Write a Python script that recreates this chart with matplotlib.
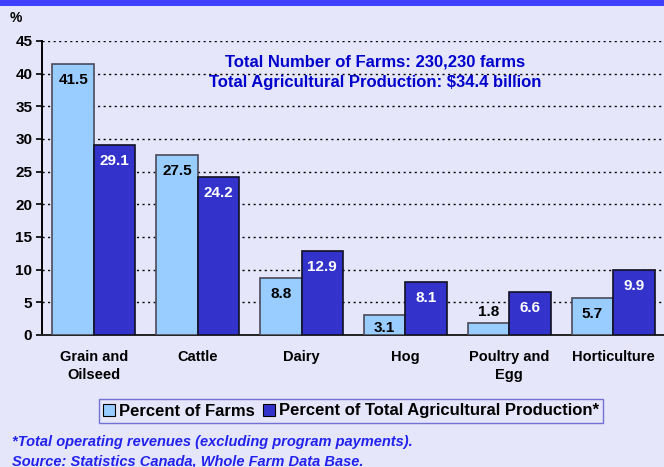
import matplotlib
matplotlib.use("Agg")
import matplotlib.pyplot as plt
from matplotlib.patches import Rectangle, Patch
import numpy as np

plt.rcParams['font.family'] = ['Liberation Sans', 'DejaVu Sans']

categories = ["Grain and\nOilseed", "Cattle", "Dairy", "Hog", "Poultry and\nEgg", "Horticulture"]
pct_farms = [41.5, 27.5, 8.8, 3.1, 1.8, 5.7]
pct_production = [29.1, 24.2, 12.9, 8.1, 6.6, 9.9]
series_names = ["Percent of Farms", "Percent of Total Agricultural Production*"]
y_ticks = [0, 5, 10, 15, 20, 25, 30, 35, 40, 45]

BG = "#E6E6FA"
LIGHT = "#99CCFF"
DARK = "#3333CC"

fig = plt.figure(figsize=(6.64, 4.67), dpi=100, facecolor=BG)

# header band across the top
fig.patches.append(Rectangle((0, 1 - 6 / 467), 1, 6 / 467, transform=fig.transFigure,
                             facecolor="#4040FF", edgecolor="none", zorder=0))

ax = fig.add_axes([42 / 664, 1 - 335 / 467, 623 / 664, 294 / 467])
ax.set_facecolor(BG)

x = np.arange(len(categories))
w = 0.4
b1 = ax.bar(x - w / 2, pct_farms, w, color=LIGHT, edgecolor="#4A4A5A", linewidth=1.2, zorder=3)
b2 = ax.bar(x + w / 2, pct_production, w, color=DARK, edgecolor="#111122", linewidth=1.2, zorder=3)

ax.set_xlim(-0.5, len(categories) - 0.5)
ax.set_ylim(0, 45)
ax.set_yticks(y_ticks)
ax.set_yticklabels([str(t) for t in y_ticks], fontsize=11, fontweight="bold")
ax.yaxis.grid(True, linestyle=(0, (1.5, 2.5)), color="black", linewidth=1.0, zorder=0)
ax.set_axisbelow(True)
ax.tick_params(axis="y", length=4, width=1.2, pad=3)
ax.tick_params(axis="x", length=0, pad=11)
ax.set_xticks(x)
ax.set_xticklabels(categories, fontsize=10.5, fontweight="bold", linespacing=1.35)
for s in ["top", "right"]:
    ax.spines[s].set_visible(False)
ax.spines["left"].set_linewidth(1.4)
ax.spines["bottom"].set_linewidth(1.4)
ax.spines["bottom"].set_color("#222222")

px_per_unit = 294 / 45.0
pt_per_px = 72 / 100.0


def label_bars(bars, values, color):
    for rect, v in zip(bars, values):
        h_px = v * px_per_unit
        if h_px >= 32:
            off = -16
        elif h_px >= 18:
            off = -13
        else:
            off = 11
        ax.annotate(f"{v:.1f}", (rect.get_x() + rect.get_width() / 2, v),
                    xytext=(0, off * pt_per_px), textcoords="offset points",
                    ha="center", va="center", fontsize=11, fontweight="bold",
                    color=(color if off < 0 else "black"), zorder=5)


label_bars(b1, pct_farms, "black")
label_bars(b2, pct_production, "white")

fig.text(10 / 664, 1 - 18 / 467, "%", fontsize=10, fontweight="bold", ha="left", va="center")

ax.text(375 / 664, 1 - 62 / 467, "Total Number of Farms: 230,230 farms", transform=fig.transFigure,
        ha="center", va="center", fontsize=12, fontweight="bold", color="#0000CC")
ax.text(375 / 664, 1 - 82 / 467, "Total Agricultural Production: $34.4 billion", transform=fig.transFigure,
        ha="center", va="center", fontsize=12, fontweight="bold", color="#0000CC")

handles = [Patch(facecolor=LIGHT, edgecolor="black", linewidth=0.8),
           Patch(facecolor=DARK, edgecolor="black", linewidth=0.8)]
leg = fig.legend(handles, series_names, loc="center", bbox_to_anchor=(351 / 664, 1 - 411 / 467),
                 ncol=2, frameon=True, fancybox=False, facecolor=BG, edgecolor="#5555CC",
                 prop={"weight": "bold", "size": 12}, handlelength=0.7, handleheight=0.7,
                 handletextpad=0.25, columnspacing=0.5, borderpad=0.25, borderaxespad=0)
leg.get_frame().set_linewidth(1.0)

fig.text(12 / 664, 1 - 442 / 467, "*Total operating revenues (excluding program payments).",
         fontsize=10.5, fontweight="bold", style="italic", color="#2222EE", ha="left", va="center")
fig.text(12 / 664, 1 - 461 / 467, "Source: Statistics Canada, Whole Farm Data Base.",
         fontsize=10.5, fontweight="bold", style="italic", color="#2222EE", ha="left", va="center")

fig.savefig("out.png", dpi=100, facecolor=BG)
